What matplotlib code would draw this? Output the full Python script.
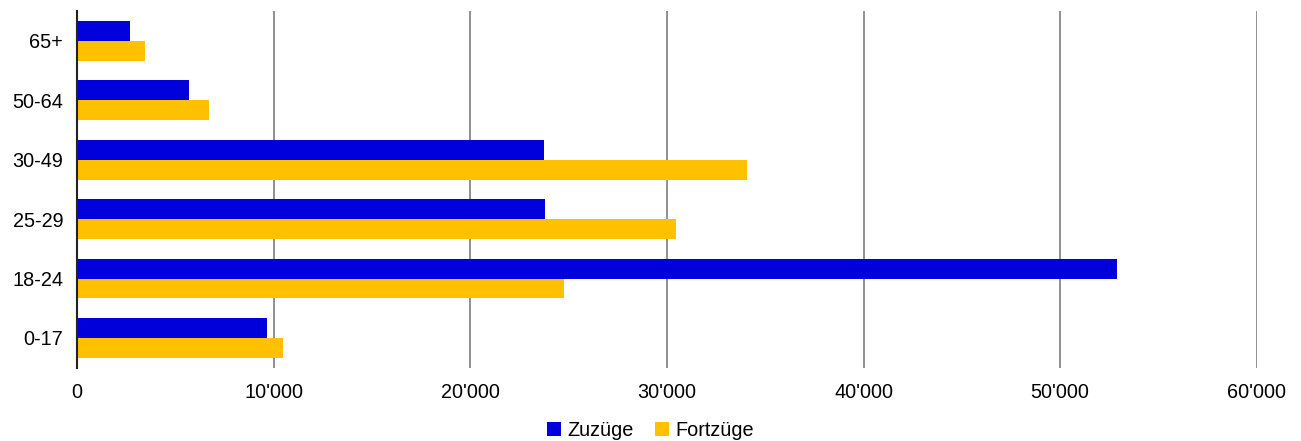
import numpy as np
import matplotlib.pyplot as plt

plt.rcParams['font.family'] = ['Liberation Sans', 'DejaVu Sans']

# age groups, bottom to top
groups = ["0-17", "18-24", "25-29", "30-49", "50-64", "65+"]
zuzuege = [9640, 52900, 23820, 23760, 5710, 2680]
fortzuege = [10470, 24770, 30450, 34090, 6690, 3470]
x_ticks = [0, 10000, 20000, 30000, 40000, 50000, 60000]
x_ticklabels = ["0", "10'000", "20'000", "30'000", "40'000", "50'000", "60'000"]

blue = "#0000DD"
yellow = "#FFC000"

fig = plt.figure(figsize=(13.01, 4.41), dpi=100)
ax = fig.add_axes([0.0592, 0.1662, 0.9068, 0.8088])

y = np.arange(len(groups))
h = 0.335
ax.barh(y + h / 2, zuzuege, height=h, color=blue, label="Zuzüge", zorder=3)
ax.barh(y - h / 2, fortzuege, height=h, color=yellow, label="Fortzüge", zorder=3)

ax.set_xlim(0, 60000)
ax.set_ylim(-0.5, len(groups) - 0.5)
ax.set_xticks(x_ticks)
ax.set_xticklabels(x_ticklabels)
ax.set_yticks(y)
ax.set_yticklabels(groups)
ax.tick_params(axis="both", length=0, labelsize=14.3)
ax.tick_params(axis="x", pad=11)
ax.tick_params(axis="y", pad=10)

ax.grid(axis="x", color="#888888", linewidth=1.3, zorder=0)
for s in ["top", "right", "bottom"]:
    ax.spines[s].set_visible(False)
ax.spines["left"].set_color("#222222")
ax.spines["left"].set_linewidth(1.5)
ax.spines["left"].set_zorder(4)

fig.legend(loc="lower center", bbox_to_anchor=(0.5, -0.038), ncol=2, frameon=False,
           fontsize=14.3, handlelength=0.7, handleheight=0.7, handletextpad=0.3,
           columnspacing=1.1)

fig.savefig("out.png", dpi=100)
